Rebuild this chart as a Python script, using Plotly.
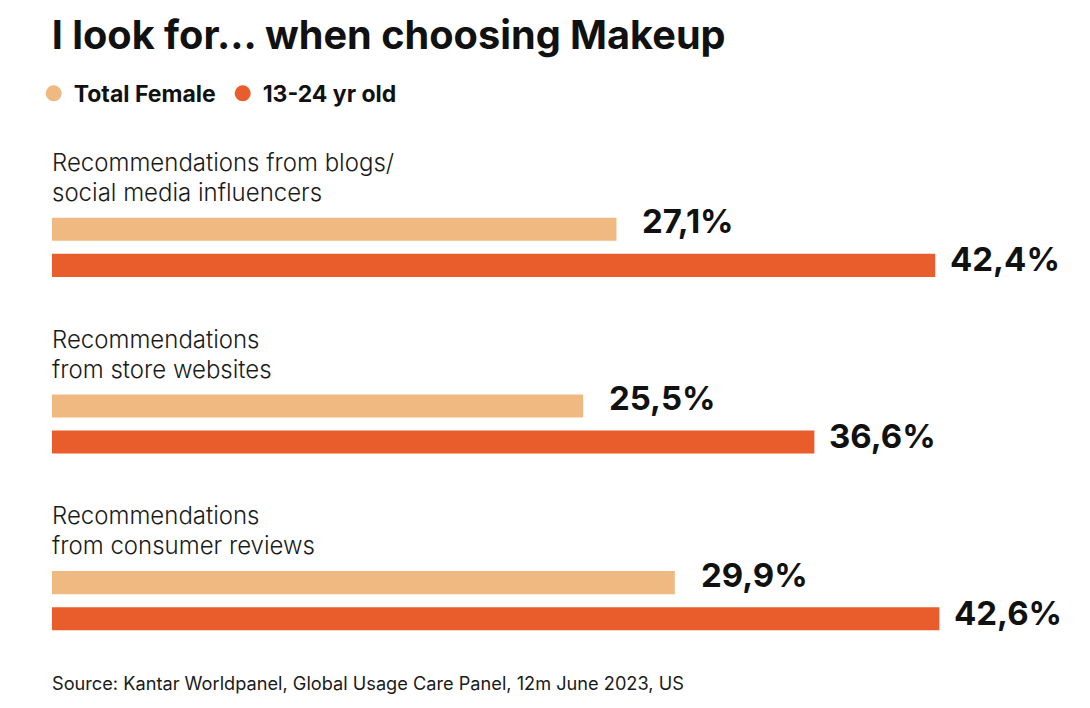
import plotly.graph_objects as go

categories = [
    "Recommendations from blogs/<br>social media influencers",
    "Recommendations<br>from store websites",
    "Recommendations<br>from consumer reviews",
]
cat_keys = ["blogs", "store", "reviews"]
total_female = [27.1, 25.5, 29.9]
young_13_24 = [42.4, 36.6, 42.6]
series_names = ["Total Female", "13-24 yr old"]
colors = ["#F0B982", "#E95D2D"]

FONT = "Inter"
PX_PER_UNIT = 20.83
PLOT_W = 1090 - 44

fig = go.Figure()
for name, vals, col in zip(series_names, [total_female, young_13_24], colors):
    fig.add_trace(go.Bar(
        y=cat_keys, x=vals, orientation="h", name=name,
        marker=dict(color=col, line=dict(width=0)),
        showlegend=False, hoverinfo="skip",
    ))
    fig.add_trace(go.Scatter(
        x=[None], y=[None], mode="markers", name=name,
        marker=dict(symbol="circle", size=18, color=col),
        showlegend=True,
    ))

# category labels (each line separately for tight line spacing)
for key, lab in zip(cat_keys, categories):
    for i, line in enumerate(lab.split("<br>")):
        fig.add_annotation(
            x=0, y=key, xref="x", yref="y", text=line, showarrow=False,
            xanchor="left", yanchor="middle", align="left", xshift=-2,
            yshift=85 - 30 * i,
            font=dict(family=FONT, size=24, color="#1a1a1a", weight=300),
        )

# value labels
for vals, ys, xs in [(total_female, 26, 24), (young_13_24, -12, 13)]:
    for key, v in zip(cat_keys, vals):
        fig.add_annotation(
            x=v, y=key, xref="x", yref="y",
            text=f"{v:.1f}%".replace(".", ","), showarrow=False,
            xanchor="left", yanchor="middle", xshift=xs, yshift=ys,
            font=dict(family=FONT, size=33, color="#111111", weight="bold"),
        )

fig.add_annotation(
    x=0, y=0, xref="paper", yref="paper", yshift=6,
    text="Source: Kantar Worldpanel, Global Usage Care Panel, 12m June 2023, US",
    showarrow=False, xanchor="left", yanchor="middle", xshift=-2,
    font=dict(family=FONT, size=18.2, color="#1a1a1a"),
)

fig.update_layout(
    width=1090, height=708,
    margin=dict(l=44, r=0, t=151, b=27, autoexpand=False),
    paper_bgcolor="white", plot_bgcolor="white",
    barmode="group", bargap=0.592, bargroupgap=0.36,
    title=dict(text="<b>I look for... when choosing Makeup</b>", x=0.0401, xanchor="left",
               y=0.962, yanchor="middle",
               font=dict(family=FONT, size=39.7, color="#111111")),
    legend=dict(orientation="h", x=-0.0175, xanchor="left", y=1.1239, yanchor="middle",
                font=dict(family=FONT, size=23, color="#111111", weight="bold"),
                itemwidth=30, entrywidth=144, entrywidthmode="pixels",
                traceorder="normal", bgcolor="rgba(0,0,0,0)"),
    xaxis=dict(range=[0, PLOT_W / PX_PER_UNIT], visible=False, fixedrange=True),
    yaxis=dict(visible=False, range=[len(cat_keys) - 0.5, -0.5], categoryorder="array",
               categoryarray=cat_keys, fixedrange=True),
    showlegend=True,
)

fig.write_html("out.html")
